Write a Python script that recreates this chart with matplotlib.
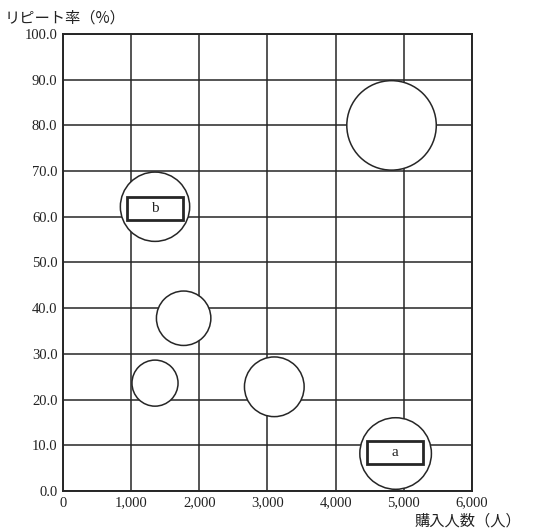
import matplotlib
matplotlib.use("Agg")
import matplotlib.pyplot as plt
from matplotlib.patches import Rectangle

# bubble data: purchasers (people), repeat rate (%), bubble size (area units)
buyers = [4820, 1350, 1770, 1350, 3100, 4880]
repeat = [80.0, 62.2, 37.8, 23.6, 22.8, 8.2]
size = [100, 60, 37, 26.5, 44.5, 64]

# labelled boxes
box_labels = ["a", "b"]
box_x = [4870, 1350]
box_y = [8.4, 61.9]

xticks = [0, 1000, 2000, 3000, 4000, 5000, 6000]
yticks = [0, 10, 20, 30, 40, 50, 60, 70, 80, 90, 100]

INK = "#262626"
SERIF = ["Liberation Serif", "DejaVu Serif"]
JP = ["Noto Sans CJK JP", "DejaVu Sans"]

fig = plt.figure(figsize=(5.37, 5.32), dpi=100)
ax = fig.add_axes([0.1173, 0.0771, 0.7616, 0.859])

ax.set_xlim(0, 6000)
ax.set_ylim(0, 100)
ax.set_xticks(xticks)
ax.set_yticks(yticks)
ax.set_xticklabels([f"{v:,}" for v in xticks], family=SERIF, fontsize=10.5)
ax.set_yticklabels([f"{v:.1f}" for v in yticks], family=SERIF, fontsize=10.5)
ax.tick_params(length=0, pad=4, colors="#222")
ax.grid(True, color=INK, lw=1.1)
ax.set_axisbelow(True)
for s in ax.spines.values():
    s.set_color(INK)
    s.set_linewidth(1.4)

ax.scatter(buyers, repeat, s=[v * 41.5 for v in size], facecolor="white",
           edgecolor=INK, linewidth=1.1, zorder=3)

w, h = 830, 5.0
for lab, bx, by in zip(box_labels, box_x, box_y):
    ax.add_patch(Rectangle((bx - w / 2, by - h / 2), w, h, facecolor="white",
                           edgecolor=INK, linewidth=2.0, zorder=4))
    ax.text(bx, by, lab, ha="center", va="center", family=SERIF, fontsize=11,
            zorder=5, color="#222")

fig.text(0.008, 0.967, "リピート率（%）", family=JP, fontsize=11, color="#222",
         ha="left", va="center")
fig.text(0.97, 0.02, "購入人数（人）", family=JP, fontsize=11, color="#222",
         ha="right", va="center")

fig.savefig("out.png", dpi=100)
